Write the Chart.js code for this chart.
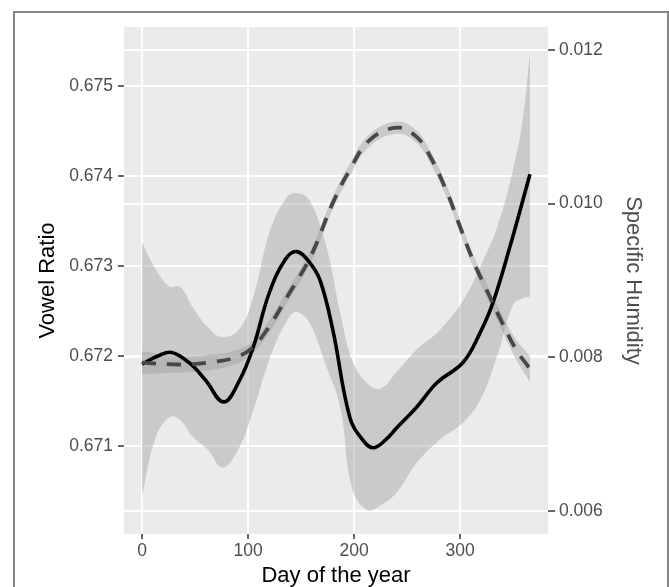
<!DOCTYPE html>
<html lang="en">
<head>
    <meta charset="UTF-8">
    <title>Vowel Ratio vs Specific Humidity</title>
    <script src="https://cdn.jsdelivr.net/npm/chart.js"></script>
    <style>
        body {
            margin: 0;
            background: #ffffff;
            overflow: hidden;
        }
        .frame {
            position: absolute;
            left: 13px;
            top: 11px;
            width: 652px;
            height: 620px;
            border: 2px solid #858585;
        }
        .chart-box {
            position: absolute;
            left: 0;
            top: 0;
            width: 669px;
            height: 587px;
        }
    </style>
</head>
<body>

<div class="frame"></div>
<div class="chart-box">
    <canvas id="vowelChart"></canvas>
</div>

<script>
    // Day of the year where the vowel ratio curve was read
    const vowelDays = [0, 15, 28, 45, 60, 77, 92, 105, 120, 135, 146, 158, 168, 180, 196, 208, 218, 230, 241, 259, 278, 303, 319, 331, 347, 366];
    const vowelRatio = [0.67191, 0.67200, 0.67204, 0.67192, 0.67173, 0.67149, 0.67173, 0.67210, 0.67270, 0.67307, 0.67316, 0.67304, 0.67284, 0.67229, 0.67132, 0.67107, 0.67098, 0.67107, 0.67121, 0.67143, 0.67170, 0.67193, 0.67226, 0.67259, 0.67321, 0.67402];

    // Confidence band of the vowel ratio
    const bandDays = [0, 13, 26, 36, 48, 62, 76, 92, 105, 121, 137, 146, 158, 174, 187, 198, 212, 225, 240, 259, 281, 303, 319, 335, 350, 359, 366];
    const vowelUpper = [0.67326, 0.67296, 0.67277, 0.67277, 0.67254, 0.67232, 0.67221, 0.67230, 0.67266, 0.67340, 0.67377, 0.67381, 0.67373, 0.67321, 0.67248, 0.67196, 0.67170, 0.67164, 0.67182, 0.67207, 0.67229, 0.67262, 0.67299, 0.67343, 0.67407, 0.67462, 0.67537];
    const vowelLower = [0.67045, 0.67110, 0.67132, 0.67129, 0.67110, 0.67096, 0.67076, 0.67099, 0.67140, 0.67199, 0.67240, 0.67249, 0.67237, 0.67188, 0.67143, 0.67054, 0.67029, 0.67034, 0.67048, 0.67081, 0.67107, 0.67126, 0.67151, 0.67200, 0.67257, 0.67264, 0.67266];

    // Specific humidity (dashed) and its band
    const humDays = [0, 28, 45, 67, 86, 102, 118, 137, 159, 180, 196, 215, 241, 259, 272, 288, 300, 312, 325, 337, 353, 366];
    const humidity = [0.00793, 0.00791, 0.00791, 0.00794, 0.00799, 0.00810, 0.00836, 0.00879, 0.00931, 0.01001, 0.01044, 0.01083, 0.01099, 0.01087, 0.01061, 0.01014, 0.00970, 0.00927, 0.00888, 0.00853, 0.00810, 0.00785];
    const humUpper = [0.00808, 0.00802, 0.00801, 0.00804, 0.00808, 0.00818, 0.00844, 0.00887, 0.00939, 0.01009, 0.01052, 0.01091, 0.01107, 0.01095, 0.01069, 0.01022, 0.00978, 0.00935, 0.00897, 0.00863, 0.00823, 0.00802];
    const humLower = [0.00778, 0.00780, 0.00781, 0.00784, 0.00790, 0.00802, 0.00828, 0.00871, 0.00923, 0.00993, 0.01036, 0.01075, 0.01091, 0.01079, 0.01053, 0.01006, 0.00962, 0.00919, 0.00879, 0.00843, 0.00797, 0.00768];

    // Ticks
    const dayTicks = [0, 100, 200, 300];
    const vowelTicks = [0.671, 0.672, 0.673, 0.674, 0.675];
    const humTicks = [0.006, 0.008, 0.010, 0.012];

    const FONT = "'Liberation Sans', Arial, Helvetica, sans-serif";
    const bandFill = 'rgba(153, 153, 153, 0.4)';

    function pts(xs, ys) {
        return xs.map((x, i) => ({ x: x, y: ys[i] }));
    }

    // grey ggplot-like panel
    const panelBg = {
        id: 'panelBg',
        beforeDraw(chart) {
            const { ctx, chartArea: a } = chart;
            ctx.save();
            ctx.fillStyle = '#ebebeb';
            ctx.fillRect(a.left, a.top, a.right - a.left, a.bottom - a.top);
            ctx.restore();
        }
    };

    function axisTicks(fmt, pad) {
        return {
            color: '#4d4d4d',
            padding: pad,
            font: { family: FONT, size: 17.5 },
            callback: v => fmt(v)
        };
    }

    // force the tick positions
    function fixedTicks(values) {
        return s => { s.ticks = values.map(v => ({ value: v })); };
    }

    const ctx = document.getElementById('vowelChart').getContext('2d');
    new Chart(ctx, {
        type: 'line',
        data: {
            datasets: [
                {
                    data: pts(bandDays, vowelUpper),
                    yAxisID: 'y',
                    borderWidth: 0,
                    borderColor: 'rgba(0,0,0,0)',
                    backgroundColor: bandFill,
                    pointRadius: 0,
                    tension: 0.4,
                    fill: '+1',
                    order: 5
                },
                {
                    data: pts(bandDays, vowelLower),
                    yAxisID: 'y',
                    borderWidth: 0,
                    borderColor: 'rgba(0,0,0,0)',
                    pointRadius: 0,
                    tension: 0.4,
                    fill: false,
                    order: 5
                },
                {
                    data: pts(humDays, humUpper),
                    yAxisID: 'y2',
                    borderWidth: 0,
                    borderColor: 'rgba(0,0,0,0)',
                    backgroundColor: bandFill,
                    pointRadius: 0,
                    tension: 0.4,
                    fill: '+1',
                    order: 4
                },
                {
                    data: pts(humDays, humLower),
                    yAxisID: 'y2',
                    borderWidth: 0,
                    borderColor: 'rgba(0,0,0,0)',
                    pointRadius: 0,
                    tension: 0.4,
                    fill: false,
                    order: 4
                },
                {
                    label: 'Vowel Ratio',
                    data: pts(vowelDays, vowelRatio),
                    yAxisID: 'y',
                    borderColor: '#000000',
                    borderWidth: 3.6,
                    pointRadius: 0,
                    tension: 0.4,
                    fill: false,
                    order: 2
                },
                {
                    label: 'Specific Humidity',
                    data: pts(humDays, humidity),
                    yAxisID: 'y2',
                    borderColor: '#474747',
                    borderWidth: 3.8,
                    borderDash: [14, 11],
                    pointRadius: 0,
                    tension: 0.4,
                    fill: false,
                    order: 1
                }
            ]
        },
        options: {
            responsive: true,
            maintainAspectRatio: false,
            animation: false,
            layout: { padding: { top: 27, left: 0, right: 0, bottom: 0 } },
            plugins: {
                legend: { display: false },
                tooltip: { enabled: false }
            },
            scales: {
                x: {
                    type: 'linear',
                    min: -17,
                    max: 383,
                    afterBuildTicks: fixedTicks(dayTicks),
                    ticks: axisTicks(v => String(v), 2),
                    grid: { color: '#ffffff', lineWidth: 2, tickColor: '#333333', tickLength: 5, tickWidth: 1.5 },
                    border: { display: false },
                    title: {
                        display: true,
                        text: 'Day of the year',
                        color: '#000000',
                        font: { family: FONT, size: 22, lineHeight: 1 },
                        padding: { top: 0, bottom: 0 }
                    },
                    afterFit: s => { s.height = 53; }
                },
                y: {
                    type: 'linear',
                    position: 'left',
                    min: 0.670022,
                    max: 0.675656,
                    afterBuildTicks: fixedTicks(vowelTicks),
                    ticks: axisTicks(v => v.toFixed(3), 5),
                    grid: { color: '#ffffff', lineWidth: 2, tickColor: '#333333', tickLength: 6, tickWidth: 1.5 },
                    border: { display: false },
                    title: {
                        display: true,
                        text: 'Vowel Ratio',
                        color: '#000000',
                        font: { family: FONT, size: 22, lineHeight: 1 },
                        padding: { top: 37, bottom: 0 }
                    },
                    afterFit: s => { s.width = 124; }
                },
                y2: {
                    type: 'linear',
                    position: 'right',
                    min: 0.005701,
                    max: 0.012299,
                    afterBuildTicks: fixedTicks(humTicks),
                    ticks: axisTicks(v => v.toFixed(3), 4),
                    grid: { color: '#ffffff', lineWidth: 2, tickColor: '#333333', tickLength: 7, tickWidth: 1.5 },
                    border: { display: false },
                    title: {
                        display: true,
                        text: 'Specific Humidity',
                        color: '#4d4d4d',
                        font: { family: FONT, size: 22, lineHeight: 1 },
                        padding: { top: 25, bottom: 0 }
                    },
                    afterFit: s => { s.width = 121; }
                }
            }
        },
        plugins: [panelBg]
    });
</script>
</body>
</html>
